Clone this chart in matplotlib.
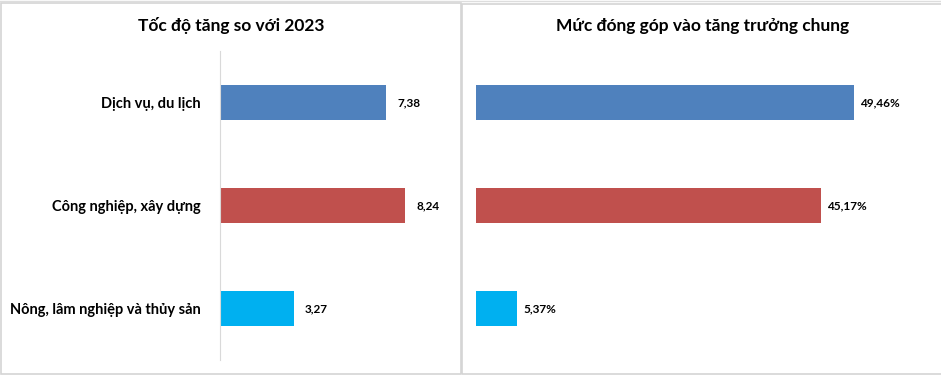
import matplotlib.pyplot as plt
from matplotlib.patches import Rectangle

plt.rcParams['font.family'] = ['Lato', 'DejaVu Sans']

categories = ["Dịch vụ, du lịch", "Công nghiệp, xây dựng", "Nông, lâm nghiệp và thủy sản"]
growth = [7.38, 8.24, 3.27]
growth_labels = ["7,38", "8,24", "3,27"]
share = [49.46, 45.17, 5.37]
share_labels = ["49,46%", "45,17%", "5,37%"]
colors = ["#4F81BD", "#C0504D", "#00B0F0"]

W, H = 941, 376
fig = plt.figure(figsize=(W / 100, H / 100), dpi=100)
fig.patch.set_facecolor("white")

def box(x0, y0, x1, y1):
    # pixel coords from top-left
    return [x0 / W, 1 - y1 / H, (x1 - x0) / W, (y1 - y0) / H]

# panel borders, like Excel chart areas
for x0, y0, x1, y1 in [(1, 3, 461, 374), (462, 4, 945, 374)]:
    b = box(x0, y0, x1, y1)
    fig.add_artist(Rectangle((b[0], b[1]), b[2], b[3], transform=fig.transFigure,
                             fill=False, edgecolor="#D4D4D4", linewidth=1.2))
# sheet gridline at top
fig.add_artist(plt.Line2D([0, 1], [1 - 0.5 / H, 1 - 0.5 / H], transform=fig.transFigure,
                          color="#DDDDDD", linewidth=1))

ypos = list(range(len(categories)))

# left chart
ax1 = fig.add_axes(box(220, 51, 445, 360))
ax1.barh(ypos, growth, height=0.34, color=colors)
ax1.set_ylim(2.5, -0.5)
ax1.set_xlim(0, 10)
ax1.set_yticks(ypos)
ax1.set_yticklabels(categories, fontsize=10.5, fontweight="bold")
ax1.tick_params(axis="y", length=0, pad=14)
ax1.set_xticks([])
for s in ["top", "right", "bottom"]:
    ax1.spines[s].set_visible(False)
ax1.spines["left"].set_color("#D9D9D9")
for y, v, t in zip(ypos, growth, growth_labels):
    ax1.text(v + 0.5, y, t, va="center", ha="left", fontsize=8.5, fontweight="bold")
fig.text(231 / W, 1 - 26 / H, "Tốc độ tăng so với 2023", ha="center", va="center",
         fontsize=12.5, fontweight="bold")

# right chart
ax2 = fig.add_axes(box(476, 51, 934, 360))
ax2.barh(ypos, share, height=0.34, color=colors)
ax2.set_ylim(2.5, -0.5)
ax2.set_xlim(0, 60)
ax2.set_xticks([])
ax2.set_yticks([])
for s in ax2.spines.values():
    s.set_visible(False)
for y, v, t in zip(ypos, share, share_labels):
    ax2.text(v + 0.85, y, t, va="center", ha="left", fontsize=8.5, fontweight="bold")
fig.text(703 / W, 1 - 26 / H, "Mức đóng góp vào tăng trưởng chung", ha="center", va="center",
         fontsize=12.5, fontweight="bold")

fig.savefig("out.png", dpi=100)
